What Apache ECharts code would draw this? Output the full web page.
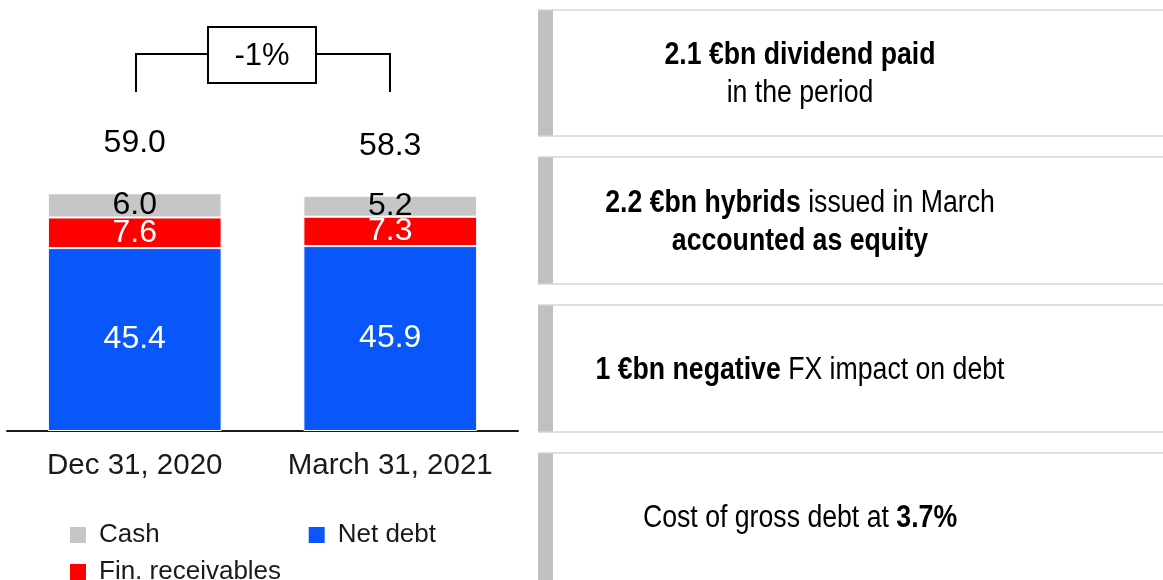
<!DOCTYPE html>
<html>
<head>
<meta charset="utf-8">
<script src="https://cdn.jsdelivr.net/npm/echarts@6/dist/echarts.min.js"></script>
<style>
html,body{margin:0;padding:0;background:#fff;}
#chart{width:1163px;height:580px;}
</style>
</head>
<body>
<div id="chart"></div>
<script>
const categories = ['Dec 31, 2020', 'March 31, 2021'];
const netDebt = [45.4, 45.9];
const finReceivables = [7.6, 7.3];
const cash = [6.0, 5.2];
const totals = [59.0, 58.3];
const changeLabel = '-1%';
const notes = [
  '{b|2.1 €bn dividend paid}\n{n|in the period}',
  '{b|2.2 €bn hybrids}{n| issued in March}\n{b|accounted as equity}',
  '{b|1 €bn negative}{n| FX impact on debt}',
  '{n|Cost of gross debt at }{b|3.7%}'
];

const FONT = 'Liberation Sans, Arial, sans-serif';
const chart = echarts.init(document.getElementById('chart'));

const segLabel = (color) => ({
  show: true, position: 'inside', color: color, fontSize: 32, fontFamily: FONT,
  formatter: (p) => p.value.toFixed(1)
});

// right-hand note boxes
const boxes = [
  {top: 10, bottom: 136, ty: 74},
  {top: 157, bottom: 284, ty: 222},
  {top: 305, bottom: 432, ty: 370},
  {top: 453, bottom: 600, ty: 518}
];
const graphics = [];
boxes.forEach((b, i) => {
  graphics.push({type: 'rect', shape: {x: 538, y: b.top, width: 15, height: b.bottom - b.top}, style: {fill: '#c0c0c0'}, silent: true});
  graphics.push({type: 'line', shape: {x1: 538, y1: b.top, x2: 1163, y2: b.top}, style: {stroke: '#d6d6d6', lineWidth: 1.5}, silent: true});
  graphics.push({type: 'line', shape: {x1: 538, y1: b.bottom, x2: 1163, y2: b.bottom}, style: {stroke: '#d6d6d6', lineWidth: 1.5}, silent: true});
  graphics.push({
    type: 'text', x: 800, y: b.ty, scaleX: 0.86, scaleY: 1, silent: true,
    style: {
      x: 0, y: 0, text: notes[i], align: 'center', verticalAlign: 'middle',
      rich: {
        b: {fontSize: 31, fontWeight: 'bold', fontFamily: FONT, fill: '#000', lineHeight: 38},
        n: {fontSize: 31, fontFamily: FONT, fill: '#000', lineHeight: 38}
      }
    }
  });
});
// bracket with change box
graphics.push({type: 'polyline', shape: {points: [[136, 92], [136, 54], [208, 54]]}, style: {stroke: '#000', lineWidth: 2, fill: null}, silent: true});
graphics.push({type: 'polyline', shape: {points: [[316, 54], [390, 54], [390, 92]]}, style: {stroke: '#000', lineWidth: 2, fill: null}, silent: true});
graphics.push({type: 'rect', shape: {x: 208, y: 27, width: 108, height: 56}, style: {fill: '#fff', stroke: '#000', lineWidth: 2}, silent: true});
graphics.push({type: 'text', x: 262, y: 56, silent: true, style: {text: changeLabel, align: 'center', verticalAlign: 'middle', fontSize: 31, fontFamily: FONT, fill: '#000'}});

const legendText = {fontSize: 26, color: '#1a1a1a', fontFamily: FONT, padding: [0, 0, 0, 8]};
const option = {
  animation: false,
  backgroundColor: '#fff',
  grid: {left: 7, right: 645, top: 10, bottom: 149, containLabel: false},
  xAxis: {
    type: 'category', data: categories,
    axisLine: {lineStyle: {color: '#1a1a1a', width: 2}},
    axisTick: {show: false},
    axisLabel: {interval: 0, fontSize: 29.5, color: '#1a1a1a', fontFamily: FONT, margin: 20}
  },
  yAxis: {type: 'value', min: 0, max: 104.5, show: false, splitLine: {show: false}},
  legend: [
    {
      data: [{name: 'Cash'}, {name: 'Net debt'}], left: 70, top: 522, padding: 0,
      icon: 'rect', itemWidth: 16, itemHeight: 16, itemGap: 149,
      itemStyle: {borderWidth: 0},
      textStyle: legendText
    },
    {
      data: [{name: 'Fin. receivables'}], left: 70, top: 559, padding: 0,
      icon: 'rect', itemWidth: 16, itemHeight: 16,
      itemStyle: {borderWidth: 0},
      textStyle: legendText
    }
  ],
  series: [
    {name: 'Net debt', type: 'bar', stack: 'a', data: netDebt, barWidth: '68%',
     itemStyle: {color: '#0957fb', borderColor: '#fff', borderWidth: 1}, label: segLabel('#fff')},
    {name: 'Fin. receivables', type: 'bar', stack: 'a', data: finReceivables,
     itemStyle: {color: '#ff0000', borderColor: '#fff', borderWidth: 1}, label: segLabel('#fff')},
    {name: 'Cash', type: 'bar', stack: 'a', data: cash,
     itemStyle: {color: '#c6c6c6', borderColor: '#fff', borderWidth: 1}, label: segLabel('#000')},
    {name: 'Total', type: 'bar', data: totals, barWidth: '68%', barGap: '-100%', z: 0,
     itemStyle: {color: 'rgba(0,0,0,0)'}, silent: true,
     label: {show: true, position: 'top', distance: 34, fontSize: 32, color: '#000', fontFamily: FONT,
             formatter: (p) => p.value.toFixed(1)}}
  ],
  graphic: graphics
};
chart.setOption(option);
</script>
</body>
</html>
